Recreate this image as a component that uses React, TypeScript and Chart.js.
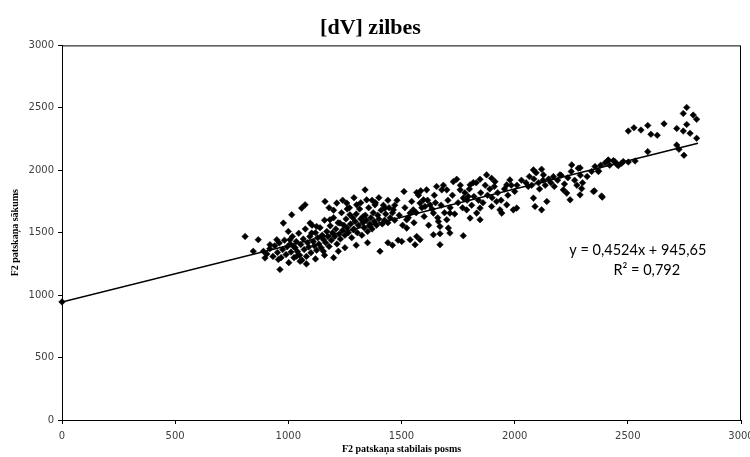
import React, { useEffect, useRef } from "react";
import { Chart, registerables } from "chart.js";

Chart.register(...registerables);

const chartTitle = "[dV] zilbes";
const xAxisTitle = "F2 patskaņa stabilais posms";
const yAxisTitle = "F2 patskaņa sākums";
const axisMin = 0;
const axisMax = 3000;
const axisStep = 500;

const trendSlope = 0.4524;
const trendIntercept = 945.65;
const trendXStart = 0;
const trendXEnd = 2810;
const trendLabel = "y = 0,4524x + 945,65";
const r2Label = "R² = 0,792";

// [F2 stable part, F2 onset]
const upperPoints: [number, number][] = [
  [2760, 2503], [2745, 2455], [2789, 2442], [2804, 2408], [2760, 2367], [2716, 2335],
  [2745, 2314], [2775, 2296], [2804, 2256], [2502, 2314], [2527, 2340], [2558, 2322],
  [2588, 2359], [2602, 2288], [2630, 2280], [2660, 2372], [2716, 2202], [2726, 2168],
  [2748, 2120], [2588, 2149], [2532, 2074], [2502, 2066], [2473, 2056], [2458, 2037],
  [2436, 2077], [2412, 2077], [2370, 1995], [2296, 1853], [2352, 1835], [2387, 1785],
  [2289, 2019],
];

const middlePoints: [number, number][] = [
  [1511, 1830], [1567, 1822], [1585, 1835], [1611, 1843], [1655, 1870], [1678, 1843],
  [1700, 1843], [1729, 1909], [1744, 1928], [1759, 1843], [1803, 1883], [1817, 1901],
  [1847, 1928], [1876, 1963], [1898, 1936], [1913, 1909], [1979, 1923], [1965, 1883],
  [2083, 2003], [2119, 2008], [2127, 1963], [2171, 1949], [2200, 1963], [2252, 2043],
  [2281, 2016], [2370, 1990], [2414, 2082], [2443, 2069], [2384, 1793], [2348, 1830],
  [2289, 1803], [2245, 1763], [2230, 1817], [2215, 1843], [2119, 1683], [2090, 1710],
  [2083, 1777], [2142, 1750], [2060, 1870], [1994, 1683], [2009, 1697], [1965, 1723],
  [1935, 1683], [1920, 1750], [1943, 1657], [1898, 1710], [1847, 1604], [1832, 1657],
  [1847, 1697], [1803, 1617], [1788, 1683], [1773, 1777], [1795, 1790], [1773, 1476],
  [1714, 1497], [1707, 1537], [1700, 1604], [1714, 1657], [1670, 1550], [1663, 1590],
  [1641, 1657], [1626, 1723], [1604, 1710], [1597, 1763], [1582, 1737], [1552, 1683],
  [1538, 1657], [1523, 1604], [1523, 1537], [1567, 1470], [1582, 1444], [1538, 1444],
  [1560, 1404], [1501, 1430], [1670, 1404], [1670, 1492], [1641, 1484],
  [1505, 1560], [1515, 1700], [1530, 1620], [1545, 1750], [1555, 1580], [1565, 1660],
  [1575, 1800], [1590, 1700], [1600, 1630], [1615, 1760], [1620, 1560], [1635, 1690],
  [1645, 1800], [1650, 1740], [1660, 1620], [1675, 1720], [1685, 1880], [1690, 1660],
  [1705, 1760], [1715, 1700], [1725, 1800], [1735, 1650], [1750, 1740], [1760, 1880],
  [1770, 1700], [1780, 1820], [1790, 1760], [1800, 1850], [1810, 1720], [1820, 1790],
  [1830, 1900], [1840, 1760], [1850, 1820], [1860, 1740], [1870, 1880], [1880, 1800],
  [1890, 1850], [1900, 1780], [1910, 1870], [1925, 1820], [1940, 1760], [1955, 1850],
  [1970, 1800], [1985, 1880], [2000, 1830],
  [2010, 1880], [2030, 1920], [2050, 1900], [2065, 1950], [2075, 1880], [2085, 1930],
  [2095, 1980], [2105, 1900], [2110, 1850], [2125, 1920], [2135, 1880], [2150, 1930],
  [2160, 1900], [2175, 1870], [2190, 1920], [2205, 1960], [2220, 1890], [2235, 1940],
  [2250, 1990], [2265, 1920], [2275, 1880], [2290, 1960], [2300, 1900], [2320, 1950],
  [2340, 1990], [2355, 2030], [2380, 2040], [2400, 2060], [2420, 2040], [2450, 2050],
  [2480, 2070],
];

const lowerPoints: [number, number][] = [
  [0, 946],
  [809, 1470], [867, 1444], [845, 1351], [890, 1351], [897, 1298], [919, 1404],
  [949, 1444], [963, 1205], [956, 1285], [978, 1577], [1015, 1644], [1059, 1697],
  [1074, 1723], [1000, 1510], [1007, 1444], [1022, 1391], [1037, 1311], [1052, 1271],
  [1096, 1577], [1103, 1497], [1125, 1550], [1147, 1470], [1162, 1750], [1155, 1351],
  [1184, 1604], [1214, 1737], [1221, 1351], [1228, 1577], [1258, 1737], [1272, 1644],
  [1287, 1524], [1302, 1723], [1331, 1630], [1346, 1763], [1361, 1550], [1383, 1723],
  [1405, 1351], [1427, 1697], [1464, 1683], [1339, 1843],
  [905, 1330], [918, 1372], [932, 1310], [940, 1395], [952, 1342], [960, 1418],
  [968, 1300], [975, 1365], [983, 1440], [990, 1325], [995, 1388], [1002, 1260],
  [1008, 1410], [1012, 1345], [1018, 1470], [1025, 1300], [1030, 1380], [1035, 1430],
  [1040, 1350], [1046, 1495], [1050, 1320], [1055, 1405], [1060, 1280], [1066, 1450],
  [1070, 1365], [1075, 1530], [1080, 1310], [1085, 1420], [1090, 1385], [1095, 1470],
  [1100, 1340], [1105, 1560], [1110, 1430], [1115, 1395], [1120, 1500], [1125, 1360],
  [1130, 1460], [1135, 1410], [1140, 1540], [1145, 1380], [1150, 1480], [1155, 1445],
  [1160, 1600], [1165, 1420], [1170, 1510], [1175, 1470], [1180, 1390], [1185, 1555],
  [1190, 1440], [1195, 1500], [1200, 1620], [1205, 1470], [1210, 1530], [1215, 1410],
  [1220, 1580], [1225, 1490], [1230, 1450], [1235, 1660], [1240, 1520], [1245, 1560],
  [1250, 1480], [1255, 1610], [1260, 1540], [1265, 1500], [1270, 1700], [1275, 1570],
  [1280, 1460], [1285, 1620], [1290, 1530], [1295, 1590], [1300, 1650], [1305, 1500],
  [1310, 1560], [1315, 1690], [1320, 1610], [1325, 1480], [1330, 1580], [1335, 1540],
  [1340, 1640], [1345, 1600], [1350, 1510], [1355, 1700], [1360, 1570], [1365, 1620],
  [1370, 1530], [1375, 1660], [1380, 1590], [1385, 1740], [1390, 1560], [1395, 1640],
  [1400, 1610], [1410, 1680], [1415, 1570], [1420, 1720], [1425, 1600], [1430, 1650],
  [1440, 1580], [1445, 1700], [1450, 1620], [1460, 1660], [1470, 1600], [1480, 1760],
  [1490, 1640], [1440, 1420], [1460, 1400], [1485, 1440],
  [1180, 1700], [1240, 1760], [1290, 1780], [1320, 1740], [1200, 1680], [1260, 1690],
  [1370, 1760], [1400, 1780], [1440, 1760], [1470, 1720], [1080, 1250], [1120, 1290],
  [1160, 1320], [1200, 1300], [1250, 1380], [1300, 1400], [1350, 1420],
];

const framePlugin = {
  id: "frameAndLabels",
  afterDraw(chart: any) {
    const { ctx, chartArea } = chart;
    ctx.save();
    ctx.strokeStyle = "#000";
    ctx.lineWidth = 1;
    ctx.strokeRect(chartArea.left + 0.5, chartArea.top + 0.5, chartArea.right - chartArea.left - 1, chartArea.bottom - chartArea.top);
    ctx.fillStyle = "#000";
    ctx.font = "14.5px Lato, 'Open Sans', sans-serif";
    ctx.textAlign = "center";
    ctx.textBaseline = "middle";
    const w = chartArea.right - chartArea.left;
    const h = chartArea.bottom - chartArea.top;
    const cx = chartArea.left + w * 0.848;
    const cy = chartArea.top + h * 0.548;
    ctx.fillText(trendLabel, cx, cy);
    ctx.fillText(r2Label, cx + 9, cy + 20);
    ctx.restore();
  },
};

export default function App() {
  const ref = useRef<HTMLCanvasElement | null>(null);
  useEffect(() => {
    document.body.style.margin = "0";
    if (!ref.current) return;
    const toXY = (arr: [number, number][]) => arr.map(([x, y]) => ({ x, y }));
    const chart = new Chart(ref.current, {
      type: "scatter",
      data: {
        datasets: [
          {
            type: "line",
            data: [
              { x: trendXStart, y: trendIntercept + trendSlope * trendXStart },
              { x: trendXEnd, y: trendIntercept + trendSlope * trendXEnd },
            ],
            borderColor: "#000",
            borderWidth: 1.5,
            pointRadius: 0,
            fill: false,
          } as any,
          {
            data: [...toXY(lowerPoints), ...toXY(middlePoints), ...toXY(upperPoints)],
            pointStyle: "rectRot",
            pointRadius: 3.3,
            backgroundColor: "#000",
            borderColor: "#000",
            borderWidth: 0.5,
            clip: false,
          } as any,
        ],
      },
      plugins: [framePlugin],
      options: {
        animation: false,
        responsive: false,
        layout: { padding: { right: 9, top: 0, bottom: 2 } },
        plugins: {
          legend: { display: false },
          tooltip: { enabled: false },
          title: {
            display: true,
            text: chartTitle,
            color: "#000",
            font: { family: "'Liberation Serif', serif", size: 22, weight: "bold" },
            padding: { top: 15, bottom: 4 },
          },
        },
        scales: {
          x: {
            type: "linear",
            min: axisMin,
            max: axisMax,
            ticks: {
              stepSize: axisStep,
              color: "#404040",
              font: { family: "'DejaVu Sans', sans-serif", size: 10 },
              padding: 6,
              maxRotation: 0,
              callback: (v: any) => String(v),
            },
            grid: { display: true, drawOnChartArea: false, drawTicks: true, tickLength: 4, color: "#000" },
            border: { display: true, color: "#000", width: 1 },
            title: {
              display: true,
              text: xAxisTitle,
              color: "#000",
              font: { family: "'Liberation Serif', serif", size: 10, weight: "bold" },
              padding: { top: 1, bottom: 0 },
            },
            afterFit: (s: any) => { s.height = 35; s.paddingLeft = 0; s.paddingRight = 0; },
          },
          y: {
            type: "linear",
            min: axisMin,
            max: axisMax,
            ticks: {
              stepSize: axisStep,
              color: "#404040",
              font: { family: "'DejaVu Sans', sans-serif", size: 10 },
              padding: 4,
              callback: (v: any) => String(v),
            },
            grid: { display: true, drawOnChartArea: false, drawTicks: true, tickLength: 4, color: "#000" },
            border: { display: true, color: "#000", width: 1 },
            title: {
              display: true,
              text: yAxisTitle,
              color: "#000",
              font: { family: "'Liberation Serif', serif", size: 10, weight: "bold" },
              padding: { top: 9, bottom: 0 },
            },
            afterFit: (s: any) => { s.width = 62; s.paddingTop = 0; s.paddingBottom = 0; },
          },
        },
      },
    });
    return () => chart.destroy();
  }, []);
  return (
    <div style={{ width: 750, height: 457 }}>
      <canvas ref={ref} width={750} height={457} />
    </div>
  );
}
